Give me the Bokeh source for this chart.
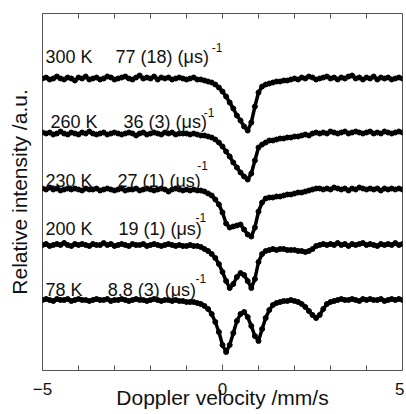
import numpy as np
from bokeh.plotting import figure
from bokeh.models import Range1d, LinearAxis, FixedTicker, ColumnDataSource
from bokeh.core.properties import value
from bokeh.embed import file_html
from bokeh.resources import INLINE

# Doppler velocity channel grid (mm/s)
VELOCITY = np.linspace(-5.0, 5.0, 101)

# Relative intensity (a.u., baseline = 0)
I_300K = [0.0, 0.1, -0.1, 0.0, 0.2, 0.0, -0.1, 0.1, 0.0, -0.2,
          0.1, 0.0, 0.2, -0.1, 0.0, 0.1, -0.1, 0.0, 0.2, 0.1,
          -0.1, 0.0, 0.1, 0.2, 0.0, -0.1, 0.1, 0.3, 0.0, 0.1,
          0.0, 0.2, -0.1, 0.1, 0.0, 0.1, -0.1, 0.0, 0.1, 0.0,
          -0.1, 0.0, 0.1, -0.1, -0.1, -0.2, -0.3, -0.4, -0.6, -0.9,
          -1.3, -1.8, -2.4, -3.0, -3.7, -4.2, -4.8, -5.2, -4.4, -2.8,
          -1.4, -0.8, -0.6, -0.5, -0.4, -0.3, -0.3, -0.2, -0.2, -0.1,
          0.0, -0.1, 0.1, 0.0, 0.2, 0.1, -0.1, 0.0, 0.1, 0.2,
          0.0, 0.1, -0.1, 0.1, 0.0, 0.2, 0.3, 0.0, 0.1, -0.1,
          0.1, 0.0, 0.2, -0.1, 0.1, 0.0, 0.1, -0.1, 0.0, 0.1, 0.0]

I_260K = [0.1, 0.0, 0.1, -0.1, 0.0, 0.2, 0.0, -0.1, 0.1, 0.0,
          -0.1, 0.1, 0.0, 0.2, 0.0, -0.1, 0.0, 0.1, -0.1, 0.0,
          0.1, 0.0, -0.1, 0.0, 0.1, 0.0, -0.2, 0.0, 0.1, -0.1,
          0.0, 0.1, 0.0, -0.1, 0.1, 0.0, 0.1, -0.1, 0.0, 0.0,
          0.0, -0.1, 0.0, -0.1, -0.2, -0.2, -0.3, -0.4, -0.6, -0.9,
          -1.3, -1.8, -2.3, -2.9, -3.4, -3.9, -4.3, -4.6, -4.0, -2.7,
          -1.4, -1.1, -0.9, -0.7, -0.7, -0.6, -0.5, -0.5, -0.4, -0.4,
          -0.3, -0.3, -0.2, -0.1, -0.2, 0.0, 0.1, 0.0, 0.1, 0.0,
          0.2, 0.1, 0.0, 0.1, 0.2, 0.0, 0.1, 0.2, 0.1, 0.0,
          0.1, 0.2, 0.0, 0.1, 0.0, 0.2, 0.1, 0.0, 0.1, 0.2, 0.1]

I_230K = [0.1, 0.0, 0.2, 0.0, 0.1, -0.1, 0.0, 0.1, 0.0, 0.1,
          0.0, -0.1, 0.1, 0.0, 0.0, 0.1, -0.1, 0.0, 0.1, 0.0,
          -0.1, 0.0, 0.1, -0.1, 0.0, 0.0, 0.1, -0.1, 0.0, 0.1,
          0.0, -0.1, 0.0, 0.1, 0.0, -0.2, 0.0, 0.1, 0.0, -0.1,
          0.0, -0.1, 0.0, -0.1, -0.1, -0.2, -0.4, -0.6, -1.0, -1.5,
          -2.3, -3.4, -3.8, -3.7, -3.6, -3.5, -4.0, -4.5, -4.7, -3.8,
          -2.2, -1.3, -0.9, -0.8, -0.8, -0.7, -0.7, -0.6, -0.5, -0.5,
          -0.4, -0.3, -0.3, -0.2, -0.1, 0.0, 0.1, 0.1, 0.0, 0.1,
          0.0, 0.2, 0.1, 0.0, 0.1, -0.1, 0.1, 0.0, 0.2, 0.1,
          0.0, 0.1, 0.0, 0.1, -0.1, 0.1, 0.0, 0.1, 0.0, 0.1, 0.0]

I_200K = [0.0, 0.1, -0.1, 0.0, 0.1, 0.0, 0.2, 0.0, -0.1, 0.1,
          0.0, 0.1, 0.0, -0.1, 0.1, 0.0, 0.0, 0.2, 0.0, 0.1,
          -0.1, 0.0, 0.1, 0.0, -0.1, 0.1, 0.0, 0.0, 0.1, -0.1,
          0.0, 0.1, 0.0, -0.1, 0.0, 0.1, 0.0, -0.1, 0.0, -0.1,
          -0.1, 0.0, -0.1, -0.1, -0.2, -0.4, -0.6, -0.9, -1.3, -1.9,
          -2.7, -3.6, -4.3, -3.9, -3.2, -2.8, -3.0, -3.6, -4.3, -3.4,
          -1.7, -0.9, -0.6, -0.5, -0.4, -0.5, -0.4, -0.4, -0.5, -0.5,
          -0.5, -0.6, -0.6, -0.7, -0.6, -0.4, -0.1, 0.0, 0.1, 0.0,
          0.1, 0.0, 0.2, 0.0, 0.1, -0.1, 0.1, 0.0, 0.1, 0.2,
          0.0, 0.1, 0.0, -0.1, 0.1, 0.0, 0.1, 0.0, 0.2, 0.0, 0.1]

I_78K = [0.0, 0.1, 0.0, -0.1, 0.1, 0.0, 0.0, 0.1, -0.1, 0.0,
         0.1, 0.0, 0.0, -0.1, 0.0, 0.1, 0.0, 0.0, 0.1, -0.1,
         0.0, 0.0, 0.1, 0.0, -0.1, 0.0, 0.1, 0.0, 0.0, -0.1,
         0.0, 0.1, 0.0, -0.1, 0.0, 0.0, -0.1, 0.0, -0.1, -0.1,
         -0.2, -0.2, -0.2, -0.3, -0.4, -0.6, -0.9, -1.4, -2.2, -3.2,
         -4.5, -5.2, -4.5, -3.3, -2.1, -1.4, -1.2, -1.7, -2.6, -3.6,
         -4.1, -2.9, -1.8, -1.0, -0.5, -0.3, -0.2, -0.1, -0.1, 0.0,
         -0.1, -0.2, -0.4, -0.7, -1.1, -1.5, -1.8, -1.5, -0.9, -0.4,
         -0.2, -0.1, 0.0, 0.1, 0.0, 0.0, 0.1, 0.0, -0.1, 0.1,
         0.0, 0.1, 0.0, 0.0, 0.1, -0.1, 0.0, 0.1, 0.0, 0.1, 0.0]

SPECTRA = [I_300K, I_260K, I_230K, I_200K, I_78K]
OFFSETS = [29.2, 23.7, 18.1, 12.55, 7.05]          # vertical stacking (a.u.)
TEMPERATURES = ["300 K", "260 K", "230 K", "200 K", "78 K"]
RATES = ["77 (18) (\u03bcs)", "36 (3) (\u03bcs)", "27 (1) (\u03bcs)",
         "19 (1) (\u03bcs)", "8.8 (3) (\u03bcs)"]
RATE_EXP = ["-1", "-1", "-1", "-1", "-1"]
X_TITLE = "Doppler velocity /mm/s"
Y_TITLE = "Relative intensity /a.u."

X_MAJOR = [-5, 0, 5]
X_MINOR = [-4, -3, -2, -1, 1, 2, 3, 4]
X_TOP = [-5, -4, -3, -2, -1, 0, 1, 2, 3, 4, 5]

# label layout (data coordinates)
TEMP_X = [-4.92, -4.78, -4.92, -4.92, -4.92]
TEMP_Y = [31.4, 24.9, 19.0, 14.2, 8.1]
RATE_X = [-2.97, -2.75, -2.92, -2.89, -3.19]
EXP_X = [-0.30, -0.52, -0.70, -0.75, -0.75]
EXP_Y = [32.35, 25.85, 20.55, 15.35, 9.25]

FONT = value("Liberation Sans")
GREY = "#555555"

p = figure(width=404, height=414, x_range=Range1d(-5, 5), y_range=Range1d(0, 35.7),
           output_backend="svg", toolbar_location=None,
           min_border_left=42, min_border_right=2, min_border_top=13, min_border_bottom=44,
           x_axis_label=X_TITLE, y_axis_label=Y_TITLE)
p.xgrid.visible = False
p.ygrid.visible = False
p.outline_line_color = GREY
p.outline_line_width = 1
p.background_fill_color = "white"
p.border_fill_color = "white"

xa = p.xaxis[0]
xa.ticker = FixedTicker(ticks=X_MAJOR, minor_ticks=X_MINOR)
xa.major_tick_in = 6
xa.major_tick_out = 0
xa.minor_tick_in = 5
xa.minor_tick_out = 0
xa.major_tick_line_color = GREY
xa.minor_tick_line_color = GREY
xa.axis_line_color = None
xa.major_label_text_font = "Liberation Sans"
xa.major_label_text_font_size = "17px"
xa.major_label_text_color = "#111111"
xa.major_label_standoff = 12
xa.axis_label_text_font = "Liberation Sans"
xa.axis_label_text_font_size = "21px"
xa.axis_label_text_font_style = "normal"
xa.axis_label_text_color = "#111111"
xa.axis_label_standoff = -12

ya = p.yaxis[0]
ya.ticker = FixedTicker(ticks=[])
ya.major_tick_out = 0
ya.major_tick_in = 0
ya.minor_tick_line_color = None
ya.major_tick_line_color = None
ya.axis_line_color = None
ya.major_label_standoff = 0
ya.axis_label_text_font = "Liberation Sans"
ya.axis_label_text_font_size = "21px"
ya.axis_label_text_font_style = "normal"
ya.axis_label_text_color = "#111111"
ya.axis_label_standoff = 12

top = LinearAxis(ticker=FixedTicker(ticks=[], minor_ticks=X_TOP), major_tick_in=0, major_tick_out=0,
                 minor_tick_in=5, minor_tick_out=0, minor_tick_line_color=GREY,
                 major_tick_line_color=None, axis_line_color=None, major_label_standoff=0)
p.add_layout(top, "above")

for spec, off in zip(SPECTRA, OFFSETS):
    y = np.array(spec) + off
    src = ColumnDataSource(dict(x=VELOCITY, y=y))
    p.line("x", "y", source=src, line_color="black", line_width=3.5, line_join="round")
    p.scatter("x", "y", source=src, size=5, color="black")

p.text(x=TEMP_X, y=TEMP_Y, text=TEMPERATURES, text_font=FONT, text_font_size=value("18px"),
       text_baseline="alphabetic", text_align="left", text_color="#111111")
p.text(x=RATE_X, y=TEMP_Y, text=RATES, text_font=FONT, text_font_size=value("18px"),
       text_baseline="alphabetic", text_align="left", text_color="#111111")
p.text(x=EXP_X, y=EXP_Y, text=RATE_EXP, text_font=FONT, text_font_size=value("12px"),
       text_baseline="alphabetic", text_align="left", text_color="#111111")

open("out.html", "w").write(file_html(p, INLINE))
